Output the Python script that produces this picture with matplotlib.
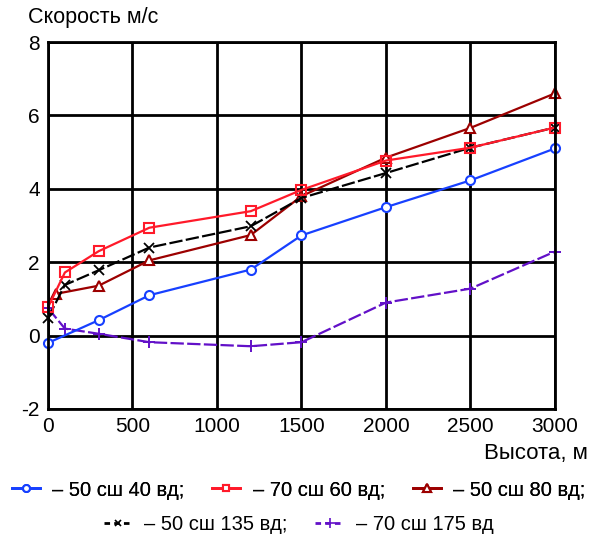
import matplotlib.pyplot as plt
from matplotlib.lines import Line2D

plt.rcParams.update({
    'font.family': ['Liberation Sans', 'DejaVu Sans'],
    'axes.unicode_minus': False,
})

# data
x_blue = [0, 300, 600, 1200, 1500, 2000, 2500, 3000]
y_blue = [-0.2, 0.42, 1.1, 1.8, 2.73, 3.5, 4.23, 5.1]

x_red = [0, 100, 300, 600, 1200, 1500, 2000, 2500, 3000]
y_red = [0.77, 1.72, 2.3, 2.94, 3.39, 3.97, 4.77, 5.12, 5.67]

x_dred = [50, 300, 600, 1200, 1500, 2000, 2500, 3000]
y_dred = [1.14, 1.36, 2.05, 2.74, 3.8, 4.85, 5.66, 6.6]

x_black = [0, 100, 300, 600, 1200, 1500, 2000, 2500, 3000]
y_black = [0.48, 1.38, 1.78, 2.4, 2.98, 3.75, 4.43, 5.12, 5.67]

x_purple = [0, 100, 300, 600, 1200, 1500, 2000, 2500, 3000]
y_purple = [0.75, 0.19, 0.05, -0.18, -0.29, -0.18, 0.9, 1.28, 2.29]

labels = ["– 50 сш 40 вд;", "– 70 сш 60 вд;", "– 50 сш 80 вд;",
          "– 50 сш 135 вд;", "– 70 сш 175 вд"]

fig = plt.figure(figsize=(5.97, 5.42), dpi=100)
ax = fig.add_axes([0.0804, 0.2454, 0.8492, 0.6771])

c_blue = "#1740ff"
c_red = "#ff1a2a"
c_dred = "#9c0000"
c_black = "black"
c_purple = "#6210c8"

ms = 6.5
lw = 1.6
ax.plot(x_purple, y_purple, color=c_purple, lw=lw, ls=(0, (6, 1.5)), marker='+', ms=9, mew=1.4, clip_on=False)
ax.plot(x_blue, y_blue, color=c_blue, lw=lw, marker='o', ms=ms, mfc='white', mew=1.5, clip_on=False)
ax.plot(x_dred, y_dred, color=c_dred, lw=lw, marker='^', ms=ms + 1, mfc='white', mew=1.5, clip_on=False)
ax.plot(x_black, y_black, color=c_black, lw=lw, ls=(0, (6, 1.5)), marker='x', ms=ms, mew=1.3, clip_on=False)
ax.plot(x_red, y_red, color=c_red, lw=lw, marker='s', ms=ms, mfc='none', mew=1.5, clip_on=False)

ax.set_xlim(0, 3000)
ax.set_ylim(-2, 8)
ax.set_xticks(range(0, 3001, 500))
ax.set_yticks(range(-2, 9, 2))
ax.grid(True, color='black', lw=2)
ax.set_axisbelow(True)
for s in ax.spines.values():
    s.set_linewidth(2)
ax.tick_params(length=0, labelsize=15, pad=6)

fig.text(28 / 597, 1 - 17 / 542, "Скорость м/с", fontsize=15.5, va='center', ha='left')
fig.text(588 / 597, 1 - 453 / 542, "Высота, м", fontsize=16, va='center', ha='right')

h = [Line2D([], [], color=c_blue, lw=2, marker='o', ms=5, mfc='white', mew=1.5),
     Line2D([], [], color=c_red, lw=2, marker='s', ms=5, mfc='white', mew=1.5),
     Line2D([], [], color=c_dred, lw=2, marker='^', ms=6, mfc='white', mew=1.5),
     Line2D([], [], color=c_black, lw=2, ls=(0, (2, 1.5)), marker='x', ms=5, mew=1.2),
     Line2D([], [], color=c_purple, lw=2, ls=(0, (2, 1.5)), marker='+', ms=7, mew=1.2)]

leg1 = fig.legend(h[:3], labels[:3], loc='center', bbox_to_anchor=(0.5, 1 - 490 / 542),
                  ncol=3, frameon=False, fontsize=14.5, handlelength=1.4,
                  handletextpad=0.6, columnspacing=1.4)
fig.add_artist(leg1)
fig.legend(h[3:], labels[3:], loc='center', bbox_to_anchor=(0.5, 1 - 525 / 542),
           ncol=2, frameon=False, fontsize=14.5, handlelength=1.4,
           handletextpad=0.6, columnspacing=1.4)

fig.savefig("out.png", dpi=100)
